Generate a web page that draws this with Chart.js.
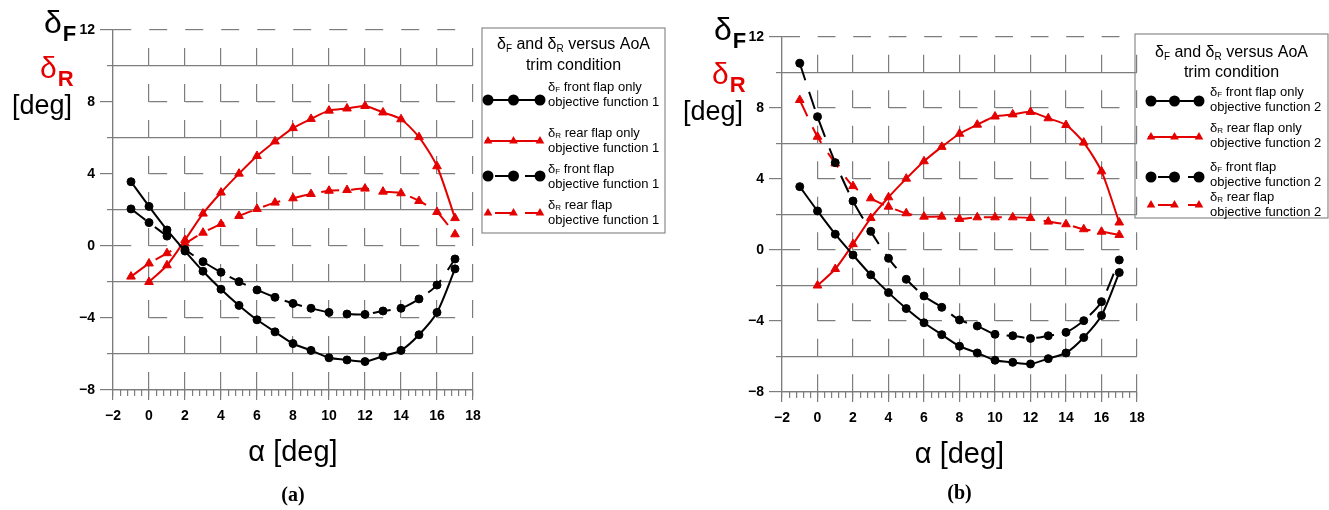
<!DOCTYPE html>
<html>
<head>
<meta charset="utf-8">
<script src="https://cdn.jsdelivr.net/npm/chart.js@4.4.1/dist/chart.umd.min.js"></script>
<style>
  html, body { margin: 0; padding: 0; background: #fff; }
  #wrap { position: relative; width: 1329px; height: 510px; overflow: hidden; }
  .panel { position: absolute; top: 0; }
</style>
</head>
<body>
<div id="wrap">
  <canvas id="chartA" class="panel" style="left:0" width="670" height="510"></canvas>
  <canvas id="chartB" class="panel" style="left:670px" width="659" height="510"></canvas>
</div>
<script>
// angle of attack [deg]
const alpha = [-1, 0, 1, 2, 3, 4, 5, 6, 7, 8, 9, 10, 11, 12, 13, 14, 15, 16, 17];

// single-flap trim (same in both panels)
const frontOnly = [3.57, 2.2, 0.89, -0.28, -1.4, -2.4, -3.3, -4.1, -4.77, -5.42, -5.8, -6.21, -6.33, -6.42, -6.12, -5.8, -4.93, -3.69, -1.27];
const rearOnly  = [null, -2.0, -1.07, 0.33, 1.8, 2.97, 4.02, 5.0, 5.81, 6.55, 7.06, 7.52, 7.64, 7.78, 7.42, 7.04, 6.05, 4.43, 1.55];

// both flaps, objective function 1
const frontObj1 = [2.06, 1.3, 0.55, -0.2, -0.87, -1.46, -1.98, -2.44, -2.85, -3.19, -3.46, -3.69, -3.78, -3.8, -3.61, -3.46, -2.94, -2.17, -0.72];
const rearObj1  = [-1.7, -0.97, -0.4, 0.15, 0.74, 1.22, 1.67, 2.06, 2.41, 2.65, 2.89, 3.07, 3.11, 3.19, 3.02, 2.93, 2.5, 1.89, 0.65];

// both flaps, objective function 2
const frontObj2 = [10.52, 7.51, 4.92, 2.76, 1.05, -0.47, -1.65, -2.59, -3.23, -3.94, -4.28, -4.75, -4.83, -4.98, -4.83, -4.64, -3.98, -2.91, -0.56];
const rearObj2  = [8.45, 6.38, 4.88, 3.6, 2.91, 2.44, 2.07, 1.88, 1.88, 1.75, 1.84, 1.84, 1.84, 1.8, 1.6, 1.45, 1.17, 1.03, 0.85];

const xTicks = [-2, 0, 2, 4, 6, 8, 10, 12, 14, 16, 18];
const xMinor = Array.from({ length: 51 }, (_, i) => -2 + i * 0.4);
const yTicks = [-8, -4, 0, 4, 8, 12];
const ySolid = [-6, -2, 2, 6, 10];

const RED = '#e50000';
const GRID = '#7d7d7d';
const SANS = '"Liberation Sans", Arial, sans-serif';
const SERIF = '"Liberation Serif", "Times New Roman", serif';

const fmt = v => (v < 0 ? '\u2212' + Math.abs(v) : String(v));
const unitX = chart => (chart.chartArea.right - chart.chartArea.left) / 20;
const unitY = chart => (chart.chartArea.bottom - chart.chartArea.top) / 20;

// dashed horizontal rows; the 4/8/-4 rows start at alpha = 0
function hDash(c) {
  if (!c.tick) return [];
  const v = c.tick.value, u = unitX(c.chart);
  if (v === -8) return [];
  if (v === 12 || v === 0) return [u, u];
  const d = [0, 2 * u];
  for (let k = 0; k < 9; k++) d.push(u, u);
  return d;
}
function vDash(c) {
  if (!c.tick || c.tick.value === -2) return [];
  const u = unitY(c.chart);
  return [u, u];
}

function series(ys) {
  return alpha.map((a, i) => ({ x: a, y: ys[i] })).filter(p => p.y !== null);
}

function line(label, ys, color, dashed, style) {
  return {
    label,
    data: series(ys),
    borderColor: color,
    backgroundColor: color,
    borderWidth: 2,
    borderDash: dashed ? [18, 12] : [],
    pointStyle: style,
    pointRadius: style === 'triangle' ? 5 : 4,
    pointBorderWidth: 1,
    pointBackgroundColor: color,
    pointBorderColor: color,
    tension: 0.25
  };
}

function scales(yW, xH) {
  const tickFont = { family: SANS, size: 14, weight: 'bold' };
  return {
    x: {
      type: 'linear', position: 'bottom', min: -2, max: 18, weight: 1,
      afterBuildTicks: s => { s.ticks = xTicks.map(v => ({ value: v })); },
      afterFit: s => { s.height = xH; },
      grid: { color: GRID, lineWidth: 1.2, tickLength: 10 },
      border: { color: GRID, width: 1.2, dash: vDash, dashOffset: c => unitY(c.chart) },
      ticks: { font: tickFont, color: '#000', padding: 8, maxRotation: 0, callback: fmt }
    },
    xm: {
      type: 'linear', position: 'bottom', min: -2, max: 18, weight: 0,
      afterBuildTicks: s => { s.ticks = xMinor.map(v => ({ value: v })); },
      afterFit: s => { s.height = 0; },
      grid: { color: GRID, lineWidth: 1.2, tickLength: 6, drawOnChartArea: false },
      border: { display: false },
      ticks: { display: false }
    },
    y: {
      type: 'linear', position: 'left', min: -8, max: 12, weight: 1,
      afterBuildTicks: s => { s.ticks = yTicks.map(v => ({ value: v })); },
      afterFit: s => { s.width = yW; },
      grid: { color: GRID, lineWidth: 1.2, tickLength: 13 },
      border: { color: GRID, width: 1.2, dash: hDash },
      ticks: { font: tickFont, color: '#000', padding: 5, callback: fmt }
    },
    ys: {
      type: 'linear', position: 'left', min: -8, max: 12, weight: 0,
      afterBuildTicks: s => { s.ticks = ySolid.map(v => ({ value: v })); },
      afterFit: s => { s.width = 0; },
      grid: { color: GRID, lineWidth: 1.2, tickLength: 6 },
      border: { display: false },
      ticks: { display: false }
    }
  };
}

// text made of pieces: [text, size, bold, dy]
function rich(ctx, parts, x, y, align) {
  let w = 0;
  parts.forEach(p => {
    ctx.font = (p[2] ? 'bold ' : '') + p[1] + 'px ' + SANS;
    p.w = ctx.measureText(p[0]).width;
    w += p.w;
  });
  let cx = align === 'center' ? x - w / 2 : x;
  ctx.textAlign = 'left';
  parts.forEach(p => {
    ctx.font = (p[2] ? 'bold ' : '') + p[1] + 'px ' + SANS;
    ctx.fillText(p[0], cx, y + (p[3] || 0));
    cx += p.w;
  });
}

function marker(ctx, style, x, y, r, color) {
  ctx.fillStyle = color;
  ctx.beginPath();
  if (style === 'triangle') {
    let a = 0;
    ctx.moveTo(x + Math.sin(a) * r, y - Math.cos(a) * r);
    a += 2 * Math.PI / 3;
    ctx.lineTo(x + Math.sin(a) * r, y - Math.cos(a) * r);
    a += 2 * Math.PI / 3;
    ctx.lineTo(x + Math.sin(a) * r, y - Math.cos(a) * r);
    ctx.closePath();
  } else {
    ctx.arc(x, y, r, 0, Math.PI * 2);
  }
  ctx.fill();
}

function drawLegend(chart, L) {
  const ctx = chart.ctx;
  ctx.strokeStyle = '#8a8a8a';
  ctx.lineWidth = 1.2;
  ctx.setLineDash([]);
  ctx.strokeRect(L.box[0], L.box[1], L.box[2] - L.box[0], L.box[3] - L.box[1]);

  ctx.fillStyle = '#000';
  ctx.textBaseline = 'middle';
  const mid = (L.box[0] + L.box[2]) / 2;
  rich(ctx, [['\u03b4', 16], ['F', 10, false, 4], [' and \u03b4', 16], ['R', 10, false, 4], [' versus AoA', 16]], mid, L.title[0], 'center');
  rich(ctx, [['trim condition', 16]], mid, L.title[1], 'center');

  chart.data.datasets.forEach((ds, i) => {
    const y = L.rows[i];
    ctx.save();
    ctx.strokeStyle = ds.borderColor;
    ctx.lineWidth = 2;
    ctx.setLineDash(ds.borderDash);
    ctx.lineDashOffset = 20;
    ctx.beginPath();
    ctx.moveTo(L.sx[0], y);
    ctx.lineTo(L.sx[1], y);
    ctx.stroke();
    ctx.restore();
    const r = ds.pointStyle === 'triangle' ? 5 : 5.5;
    [L.sx[0] + 3, (L.sx[0] + L.sx[1]) / 2, L.sx[1] - 2].forEach(px => marker(ctx, ds.pointStyle, px, y, r, ds.borderColor));

    const [head, tail] = ds.label.split('\n');
    ctx.fillStyle = '#000';
    rich(ctx, [['\u03b4', 13], [head[1], 8, false, 3], [head.slice(2), 13]], L.tx, L.t1[i], 'left');
    rich(ctx, [[tail, 13]], L.tx, L.t2[i], 'left');
  });
}

function deltaLabel(ctx, letter, color, p) {
  ctx.fillStyle = color;
  ctx.textAlign = 'left';
  ctx.textBaseline = 'alphabetic';
  ctx.font = p.size + 'px ' + SANS;
  ctx.fillText('\u03b4', p.x, p.y);
  const w = ctx.measureText('\u03b4').width;
  ctx.font = 'bold 22px ' + SANS;
  ctx.fillText(letter, p.x + w + 1, p.y + 8);
}

const decor = {
  id: 'decor',
  afterDraw(chart, args, o) {
    const ctx = chart.ctx, a = chart.chartArea, cx = (a.left + a.right) / 2;
    ctx.save();
    deltaLabel(ctx, 'F', '#000', o.dF);
    deltaLabel(ctx, 'R', RED, o.dR);
    ctx.fillStyle = '#000';
    ctx.font = '27px ' + SANS;
    ctx.fillText('[deg]', o.deg[0], o.deg[1]);

    ctx.textAlign = 'center';
    ctx.font = '29px ' + SANS;
    ctx.fillText('\u03b1 [deg]', cx, o.xTitle);
    ctx.font = 'bold 20px ' + SERIF;
    ctx.textBaseline = 'middle';
    ctx.fillText(o.tag, cx, o.tagY);

    drawLegend(chart, o.legend);
    ctx.restore();
  }
};

function makeChart(id, datasets, pad, yW, xH, deco) {
  return new Chart(document.getElementById(id), {
    type: 'line',
    data: { datasets },
    options: {
      responsive: false,
      animation: false,
      devicePixelRatio: 1,
      parsing: false,
      layout: { padding: pad },
      scales: scales(yW, xH),
      plugins: { legend: { display: false }, tooltip: { enabled: false }, decor: deco }
    },
    plugins: [decor]
  });
}

makeChart('chartA', [
  line('\u03b4F front flap only\nobjective function 1', frontOnly, '#000', false, 'circle'),
  line('\u03b4R rear flap only\nobjective function 1', rearOnly, RED, false, 'triangle'),
  line('\u03b4F front flap\nobjective function 1', frontObj1, '#000', true, 'circle'),
  line('\u03b4R rear flap\nobjective function 1', rearObj1, RED, true, 'triangle')
], { top: 30, right: 197, left: 0, bottom: 0 }, 113, 120, {
  dF: { x: 44, y: 33, size: 32 },
  dR: { x: 40, y: 78, size: 30 },
  deg: [12, 114],
  xTitle: 461,
  tag: '(a)', tagY: 496,
  legend: {
    box: [482, 28, 665, 233],
    title: [45, 66],
    sx: [485, 542], tx: 548,
    rows: [100, 141, 176, 213],
    t1: [87, 133, 169, 205],
    t2: [102, 148, 184, 220]
  }
});

makeChart('chartB', [
  line('\u03b4F front flap only\nobjective function 2', frontOnly, '#000', false, 'circle'),
  line('\u03b4R rear flap only\nobjective function 2', rearOnly, RED, false, 'triangle'),
  line('\u03b4F front flap\nobjective function 2', frontObj2, '#000', true, 'circle'),
  line('\u03b4R rear flap\nobjective function 2', rearObj2, RED, true, 'triangle')
], { top: 37, right: 192, left: 0, bottom: 0 }, 112, 118, {
  dF: { x: 44, y: 40, size: 32 },
  dR: { x: 42, y: 84, size: 30 },
  deg: [13, 120],
  xTitle: 463,
  tag: '(b)', tagY: 494,
  legend: {
    box: [465, 34, 658, 218],
    title: [53, 73],
    sx: [478, 531], tx: 540,
    rows: [101, 137, 177, 205],
    t1: [92, 128, 167, 197],
    t2: [107, 143, 182, 212]
  }
});
</script>
</body>
</html>
